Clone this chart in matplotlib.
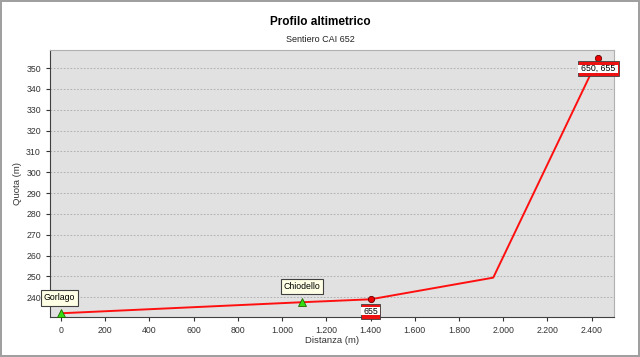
import matplotlib.pyplot as plt
from matplotlib.patches import Rectangle
from matplotlib.transforms import ScaledTranslation
from matplotlib.ticker import FuncFormatter, MultipleLocator

plt.rcParams['font.family'] = ['Liberation Sans', 'DejaVu Sans']

# profilo del sentiero
dist = [0, 1090, 1400, 1955, 2430]
quota = [232.3, 237.6, 239.0, 249.4, 354.8]

# località (triangoli verdi)
loc_x = [0, 1090]
loc_y = [232.3, 237.6]
loc_nomi = ['Gorlago', 'Chiodello']

# incroci con altri sentieri (cerchi rossi)
inc_x = [1400, 2430]
inc_y = [239.0, 354.8]
inc_nomi = ['655', '650, 655']

fig = plt.figure(figsize=(6.4, 3.57), dpi=100)
fig.patch.set_facecolor('white')
fig.patch.set_edgecolor('#a0a0a0')
fig.patch.set_linewidth(1.5)

ax = fig.add_axes([0.078, 0.112, 0.881, 0.748])
ax.set_facecolor('#e1e1e1')

ax.plot(dist, quota, color='#ff1010', lw=1.4, zorder=3)
ax.plot(loc_x, loc_y, '^', color='#33dd11', mec='#226600', mew=0.6, ms=6, zorder=4)
ax.plot(inc_x, inc_y, 'o', color='#ee0000', mec='#660000', mew=0.6, ms=4.5, zorder=4)

lbl = dict(textcoords='offset points', ha='center', va='center', fontsize=6.3,
           color='black', zorder=7, annotation_clip=False)
giallo = dict(boxstyle='square,pad=0.35', fc='#ffffe6', ec='#404040', lw=0.8)

# etichette località
ax.annotate(loc_nomi[0], (loc_x[0], loc_y[0]), xytext=(-1, 11), bbox=giallo, **lbl)
ax.annotate(loc_nomi[1], (loc_x[1], loc_y[1]), xytext=(0, 11.5), bbox=giallo, **lbl)

# etichette incroci: riquadro bianco con fascia rossa sopra e sotto
for xx, yy, nome, dy in zip(inc_x, inc_y, inc_nomi, [-8.6, -7.7]):
    w = (len(nome) * 3.2 + 4) / 72.0
    h = 11.0 / 72.0
    b = 2.6 / 72.0
    c = dy / 72.0
    tr = fig.dpi_scale_trans + ScaledTranslation(xx, yy, ax.transData)
    ax.add_patch(Rectangle((-w / 2, c - h / 2), w, h, transform=tr, fc='#ee1111',
                           ec='#404040', lw=0.6, zorder=5, clip_on=False))
    ax.add_patch(Rectangle((-w / 2 + 0.004, c - h / 2 + b), w - 0.008, h - 2 * b, transform=tr,
                           fc='white', ec='none', zorder=6, clip_on=False))
    ax.annotate(nome, (xx, yy), xytext=(0, dy), **lbl)

ax.set_xlim(-50, 2500)
ax.set_ylim(230.5, 358.7)
ax.xaxis.set_major_locator(MultipleLocator(200))
ax.set_yticks(range(240, 351, 10))
ax.xaxis.set_major_formatter(FuncFormatter(lambda v, p: '{:,.0f}'.format(v).replace(',', '.')))
ax.tick_params(labelsize=6.3, colors='#333333', length=3, width=0.8)
ax.yaxis.grid(True, ls=(0, (2, 2)), color='#a8a8a8', lw=0.6)
ax.set_axisbelow(True)

for s in ['top', 'right']:
    ax.spines[s].set_color('#b0b0b0')
for s in ['left', 'bottom']:
    ax.spines[s].set_color('#404040')

ax.set_xlabel('Distanza (m)', fontsize=6.8, color='#333333', labelpad=1)
ax.set_ylabel('Quota (m)', fontsize=6.8, color='#333333', labelpad=3)

fig.text(0.5, 0.938, 'Profilo altimetrico', ha='center', va='center', fontsize=8.5, fontweight='bold')
fig.text(0.5, 0.888, 'Sentiero CAI 652', ha='center', va='center', fontsize=6.5, color='#222222')

fig.savefig('out.png', dpi=100)
